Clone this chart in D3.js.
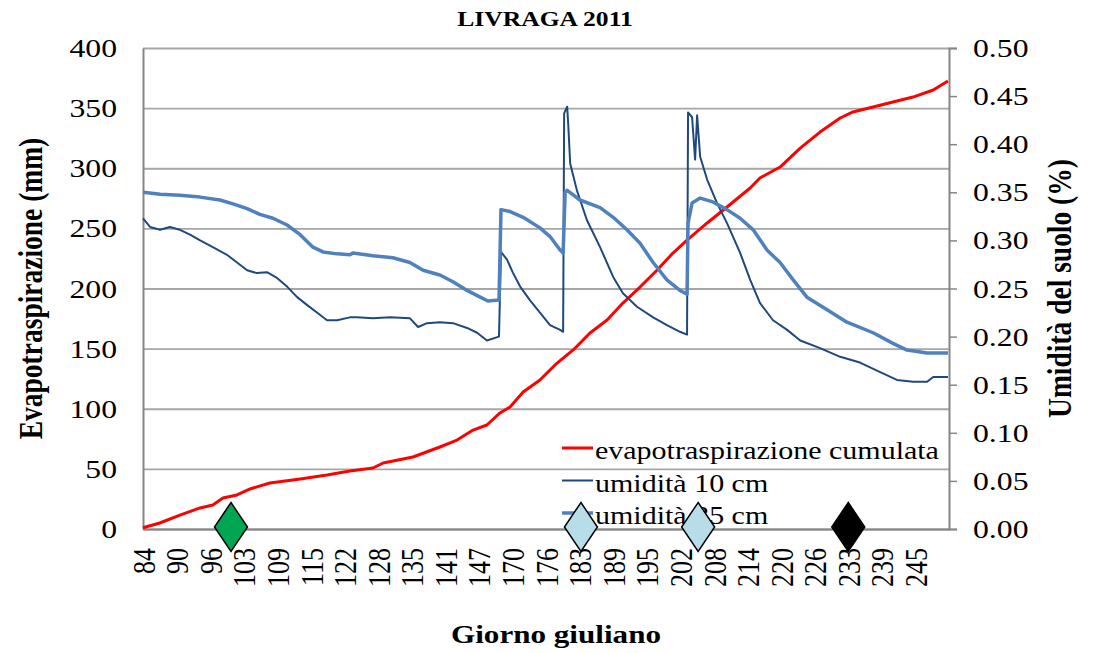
<!DOCTYPE html>
<html>
<head>
<meta charset="utf-8">
<script src="https://cdn.jsdelivr.net/npm/d3@7/dist/d3.min.js"></script>
<style>
  html, body { margin: 0; padding: 0; background: #ffffff; }
  svg { display: block; }
  text { font-family: "Liberation Serif", "Times New Roman", serif; fill: #000; }
</style>
</head>
<body>
<div id="chart"></div>
<script>
// category labels of the x axis (giorno giuliano), one every label step
const xLabels = ['84', '90', '96', '103', '109', '115', '122', '128', '135', '141', '147',
    '170', '176', '183', '189', '195', '202', '208', '214', '220', '226', '233', '239', '245'];

// [position on category axis, mm] - evapotraspirazione cumulata (left axis)
const etCumulata = [
    [0, 1], [0.5, 5], [1.1, 11.6], [1.7, 17.5], [2.08, 20], [2.38, 25.8], [2.8, 28.3],
    [3.19, 33.3], [3.78, 38.3], [4.68, 41.6], [5.48, 44.9], [6.16, 48.2], [6.85, 50.7],
    [7.15, 54.9], [8.04, 59.9], [8.84, 68.2], [9.35, 74], [9.83, 82.3], [10.24, 86.5],
    [10.63, 96.5], [10.93, 101.5], [11.32, 113.9], [11.82, 123.9], [12.33, 138],
    [12.81, 148.9], [13.31, 163], [13.82, 173.8], [14.29, 187.9], [14.8, 201.2],
    [15.31, 215.4], [15.78, 229.5], [16.2, 240.3], [16.8, 254.5], [17.39, 267.8],
    [18.08, 283.6], [18.37, 291.9], [18.97, 301], [19.57, 316.8], [20.16, 330.1],
    [20.76, 341.8], [21.14, 346.8], [21.74, 350.9], [22.33, 355.1], [22.93, 359.2],
    [23.53, 365.1], [23.97, 372.6]
];

// [position, fraction] - umidità 10 cm (right axis)
const umidita10 = [
    [0, 0.323], [0.21, 0.314], [0.51, 0.311], [0.8, 0.314], [1.1, 0.311], [1.4, 0.306],
    [1.7, 0.3], [2.08, 0.293], [2.5, 0.285], [2.8, 0.277], [3.1, 0.269], [3.39, 0.266],
    [3.69, 0.267], [3.99, 0.261], [4.29, 0.252], [4.59, 0.241], [4.88, 0.233], [5.18, 0.225],
    [5.48, 0.217], [5.78, 0.217], [6.16, 0.22], [6.37, 0.22], [6.85, 0.219], [7.36, 0.22],
    [7.95, 0.219], [8.19, 0.21], [8.46, 0.214], [8.84, 0.215], [9.23, 0.214], [9.65, 0.209],
    [9.95, 0.204], [10.24, 0.196], [10.6, 0.2], [10.66, 0.288], [10.84, 0.28], [11.02, 0.266],
    [11.23, 0.252], [11.52, 0.238], [11.82, 0.225], [12.12, 0.212], [12.42, 0.207],
    [12.51, 0.205], [12.54, 0.432], [12.63, 0.439], [12.66, 0.422], [12.72, 0.38],
    [12.92, 0.352], [13.22, 0.321], [13.61, 0.293], [14.0, 0.262], [14.29, 0.245],
    [14.71, 0.231], [15.19, 0.22], [15.6, 0.212], [15.99, 0.205], [16.2, 0.202],
    [16.23, 0.433], [16.35, 0.428], [16.44, 0.384], [16.5, 0.43], [16.59, 0.387],
    [16.8, 0.363], [17.09, 0.339], [17.39, 0.318], [17.78, 0.287], [18.08, 0.259],
    [18.37, 0.235], [18.76, 0.217], [19.18, 0.207], [19.57, 0.196], [20.16, 0.188],
    [20.76, 0.179], [21.35, 0.173], [21.95, 0.163], [22.45, 0.155], [22.93, 0.153],
    [23.35, 0.153], [23.53, 0.158], [23.97, 0.158]
];

// [position, fraction] - umidità 35 cm (right axis)
const umidita35 = [
    [0, 0.35], [0.51, 0.348], [1.1, 0.347], [1.7, 0.345], [2.29, 0.342], [2.68, 0.338],
    [3.1, 0.333], [3.48, 0.327], [3.87, 0.323], [4.29, 0.316], [4.68, 0.306], [5.06, 0.293],
    [5.36, 0.288], [5.78, 0.286], [6.16, 0.285], [6.25, 0.287], [6.85, 0.284], [7.44, 0.282],
    [7.95, 0.277], [8.34, 0.269], [8.84, 0.264], [9.23, 0.257], [9.65, 0.248], [10.04, 0.241],
    [10.27, 0.237], [10.6, 0.238], [10.66, 0.332], [10.93, 0.33], [11.32, 0.324],
    [11.82, 0.313], [12.12, 0.304], [12.42, 0.29], [12.51, 0.287], [12.57, 0.35],
    [12.63, 0.352], [13.01, 0.342], [13.61, 0.334], [14.0, 0.324], [14.41, 0.311],
    [14.8, 0.297], [15.19, 0.277], [15.6, 0.259], [15.99, 0.248], [16.2, 0.244],
    [16.23, 0.318], [16.35, 0.339], [16.59, 0.344], [16.97, 0.34], [17.39, 0.332],
    [17.78, 0.323], [18.17, 0.311], [18.58, 0.29], [18.97, 0.277], [19.36, 0.259],
    [19.77, 0.241], [20.37, 0.228], [20.96, 0.215], [21.74, 0.204], [22.33, 0.193],
    [22.75, 0.186], [23.35, 0.183], [23.97, 0.183]
];

// event markers on the x axis (diamonds)
const eventPositions = [2.62, 13.04, 16.53, 21.0];
const eventColors = ['#00a651', '#b7dee8', '#b7dee8', '#000000'];

const seriesNames = ['evapotraspirazione cumulata', 'umidità 10 cm', 'umidità 35 cm'];
const seriesColors = ['#ff0000', '#1f497d', '#4f81bd'];
const seriesWidths = [3, 2, 3.5];

const W = 1093, H = 653;
const plot = { left: 143, right: 949, top: 48, bottom: 529 };
const SX = 1.22; // horizontal stretch of the original rendering

const svg = d3.select('#chart').append('svg')
    .attr('width', W)
    .attr('height', H);

const x = d3.scaleLinear().domain([0, 24]).range([plot.left, plot.right]);
const yLeft = d3.scaleLinear().domain([0, 400]).range([plot.bottom, plot.top]);
const yRight = d3.scaleLinear().domain([0, 0.5]).range([plot.bottom, plot.top]);

// stretched text helper
function label(parent, tx, ty, str, opts = {}) {
    const rot = opts.rotate ? ` rotate(${opts.rotate})` : '';
    return parent.append('text')
        .attr('transform', `translate(${tx},${ty}) scale(${SX},1)${rot}`)
        .attr('text-anchor', opts.anchor || 'middle')
        .attr('dy', opts.dy || null)
        .attr('font-size', opts.size || 26)
        .attr('font-weight', opts.bold ? 'bold' : null)
        .text(str);
}

// gridlines (left axis)
const grid = svg.append('g')
    .attr('transform', `translate(${plot.left},0)`)
    .call(d3.axisLeft(yLeft).tickValues(d3.range(0, 401, 50))
        .tickSize(-(plot.right - plot.left)).tickFormat(''));
grid.select('.domain').remove();
grid.selectAll('.tick line').attr('stroke', '#a6a6a6').attr('stroke-width', 1.8);

// left axis labels
const leftAxis = svg.append('g')
    .attr('transform', `translate(${plot.left},0)`)
    .call(d3.axisLeft(yLeft).tickValues(d3.range(0, 401, 50)).tickSize(0).tickPadding(26));
leftAxis.select('.domain').attr('stroke', '#868686').attr('stroke-width', 2);
leftAxis.selectAll('.tick text')
    .attr('x', 0).attr('dy', '0.33em')
    .attr('transform', `translate(-26,0) scale(${SX},1)`)
    .attr('font-size', 26).attr('font-family', null)
    .attr('text-anchor', 'end');

// right axis
const rightAxis = svg.append('g')
    .attr('transform', `translate(${plot.right},0)`)
    .call(d3.axisRight(yRight).tickValues(d3.range(0, 10.5).map(d => d * 0.05))
        .tickSize(8).tickPadding(16).tickFormat(d3.format('.2f')));
rightAxis.select('.domain').attr('stroke', '#868686').attr('stroke-width', 2);
rightAxis.selectAll('.tick line').attr('stroke', '#868686').attr('stroke-width', 1.5);
rightAxis.selectAll('.tick text')
    .attr('x', 0).attr('dy', '0.33em')
    .attr('transform', `translate(24,0) scale(${SX},1)`)
    .attr('font-size', 26).attr('font-family', null)
    .attr('text-anchor', 'start');

// bottom axis
const bottomAxis = svg.append('g')
    .attr('transform', `translate(0,${plot.bottom})`)
    .call(d3.axisBottom(x).tickValues(d3.range(xLabels.length))
        .tickFormat(i => xLabels[i]).tickSize(0));
bottomAxis.select('.domain').attr('stroke', '#868686').attr('stroke-width', 2);
bottomAxis.selectAll('.tick text')
    .attr('x', 0).attr('y', 0).attr('dy', '0.35em')
    .attr('transform', `translate(0,19) scale(${SX},1) rotate(-90)`)
    .attr('font-size', 26).attr('font-family', null)
    .attr('text-anchor', 'end');

// series lines
const lineLeft = d3.line().x(d => x(d[0])).y(d => yLeft(d[1]));
const lineRight = d3.line().x(d => x(d[0])).y(d => yRight(d[1]));
const seriesData = [etCumulata, umidita10, umidita35];
const seriesLines = [lineLeft, lineRight, lineRight];

const linesGroup = svg.append('g').attr('class', 'series');
seriesData.forEach((data, i) => {
    linesGroup.append('path')
        .datum(data)
        .attr('d', seriesLines[i])
        .attr('fill', 'none')
        .attr('stroke', seriesColors[i])
        .attr('stroke-width', seriesWidths[i])
        .attr('stroke-linejoin', 'round');
});

// legend (no box)
const legend = svg.append('g').attr('class', 'legend');
seriesNames.forEach((name, i) => {
    const ly = 448 + i * 32.5;
    legend.append('line')
        .attr('x1', 562).attr('x2', 593)
        .attr('y1', ly).attr('y2', ly)
        .attr('stroke', seriesColors[i])
        .attr('stroke-width', seriesWidths[i]);
    label(legend, 595, ly + 11, name, { anchor: 'start', size: 24.6 });
});

// event diamonds on the x axis
const diamonds = svg.append('g').attr('class', 'events');
eventPositions.forEach((p, i) => {
    const cx = x(p), cy = yLeft(0) - 2;
    diamonds.append('path')
        .attr('d', `M${cx},${cy - 24.5} L${cx + 16.5},${cy} L${cx},${cy + 24.5} L${cx - 16.5},${cy} Z`)
        .attr('fill', eventColors[i])
        .attr('stroke', '#000')
        .attr('stroke-width', 1.5);
});

// titles
label(svg, 545, 26, 'LIVRAGA 2011', { size: 21, bold: true });
label(svg, 42, (plot.top + plot.bottom) / 2, 'Evapotraspirazione (mm)', { size: 27.5, bold: true, rotate: -90 });
label(svg, 1071, (plot.top + plot.bottom) / 2, 'Umidità del suolo (%)', { size: 27.5, bold: true, rotate: -90 });
label(svg, 556, 643, 'Giorno giuliano', { size: 25.5, bold: true });
</script>
</body>
</html>
